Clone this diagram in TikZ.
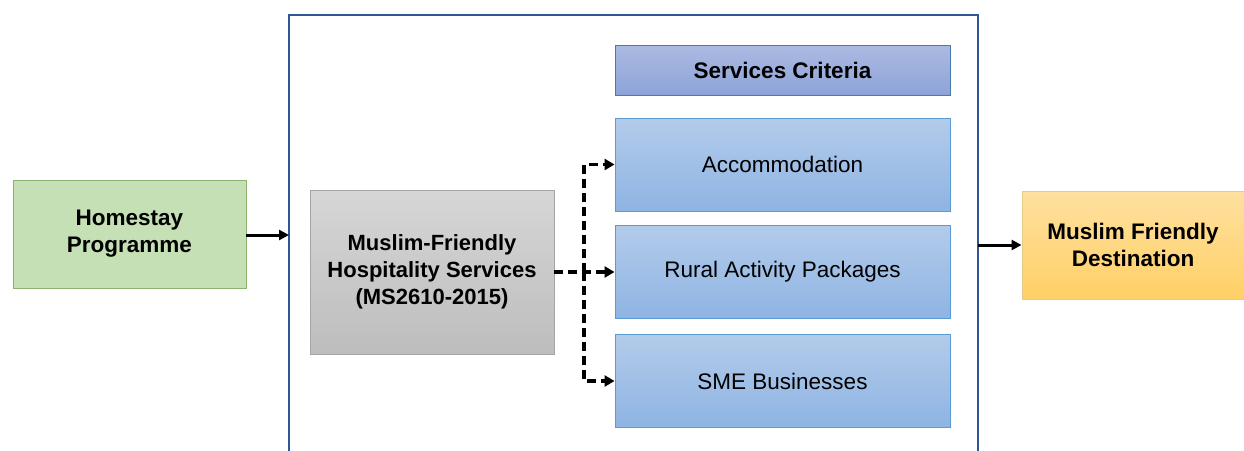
\documentclass[tikz,border=0pt]{standalone}
\usepackage{fontspec}
\setmainfont{Liberation Sans}
\usetikzlibrary{arrows.meta}
\definecolor{greenfill}{HTML}{C5E0B4}
\definecolor{greenline}{HTML}{8DB26F}
\definecolor{graytop}{HTML}{D6D6D6}
\definecolor{graybot}{HTML}{BDBDBD}
\definecolor{grayline}{HTML}{A5A5A5}
\definecolor{critTop}{HTML}{ABBAE2}
\definecolor{critBot}{HTML}{8DA3D8}
\definecolor{blueTop}{HTML}{B3CBEA}
\definecolor{blueBot}{HTML}{8EB4E3}
\definecolor{blueline}{HTML}{5B9BD5}
\definecolor{orTop}{HTML}{FFE0A0}
\definecolor{orBot}{HTML}{FFD066}
\definecolor{orline}{HTML}{E8C98A}
\definecolor{frameline}{HTML}{2F5597}
\tikzset{
  box/.style={draw, line width=0.9pt, minimum width=#1, align=center, inner sep=0pt},
  greenbox/.style={box=233pt, minimum height=108pt, fill=greenfill, draw=greenline, font=\bfseries\fontsize{22.5}{27}\selectfont},
  graybox/.style={box=244pt, minimum height=164pt, top color=graytop, bottom color=graybot, draw=grayline, font=\bfseries\fontsize{22}{27}\selectfont},
  critbox/.style={box=335pt, minimum height=50pt, top color=critTop, bottom color=critBot, draw=blueline!80!black, font=\bfseries\fontsize{22.5}{26}\selectfont},
  bluebox/.style={box=335pt, minimum height=93pt, top color=blueTop, bottom color=blueBot, draw=blueline, font=\fontsize{22.5}{26}\selectfont},
  orbox/.style={box=222pt, minimum height=108pt, top color=orTop, bottom color=orBot, draw=orline, font=\bfseries\fontsize{22.5}{27}\selectfont},
  solidarrow/.style={-{Triangle[length=10pt,width=10pt]}, line width=3pt},
  dasharrow/.style={-{Triangle[length=10pt,width=11pt]}, line width=3.2pt, dash pattern=on 9pt off 5pt}
}
\begin{document}
\begin{tikzpicture}[x=1pt,y=-1pt]
\useasboundingbox (0,0) rectangle (1244,450);
% frame (open at bottom)
\draw[frameline, line width=2.4pt] (289,452) -- (289,15) -- (978,15) -- (978,452);
\coordinate (fl) at (289,235);
\coordinate (fr) at (978,245);
\node[greenbox] (home) at (129.5,234) {Homestay\\Programme};
\node[graybox] (mfhs) at (432,272) {Muslim-Friendly\\Hospitality Services\\(MS2610-2015)};
\node[critbox] (crit) at (782.5,70) {Services Criteria};
\node[bluebox] (acc) at (782.5,164.5) {Accommodation};
\node[bluebox] (rural) at (782.5,272) {Rural Activity Packages};
\node[bluebox] (sme) at (782.5,381) {SME Businesses};
\node[orbox] (dest) at (1133,245) {Muslim Friendly\\Destination};
\draw[solidarrow] (home.east |- fl) -- (fl);
\draw[solidarrow] (fr) -- (dest.west |- fr);
\coordinate (trunk) at (584,272);
\draw[dasharrow] (mfhs.east |- trunk) -- (rural.west);
\draw[dasharrow] (trunk) -- (584,164.5) -- (acc.west);
\draw[dasharrow] (trunk) -- (584,381) -- (sme.west);
\end{tikzpicture}
\end{document}
